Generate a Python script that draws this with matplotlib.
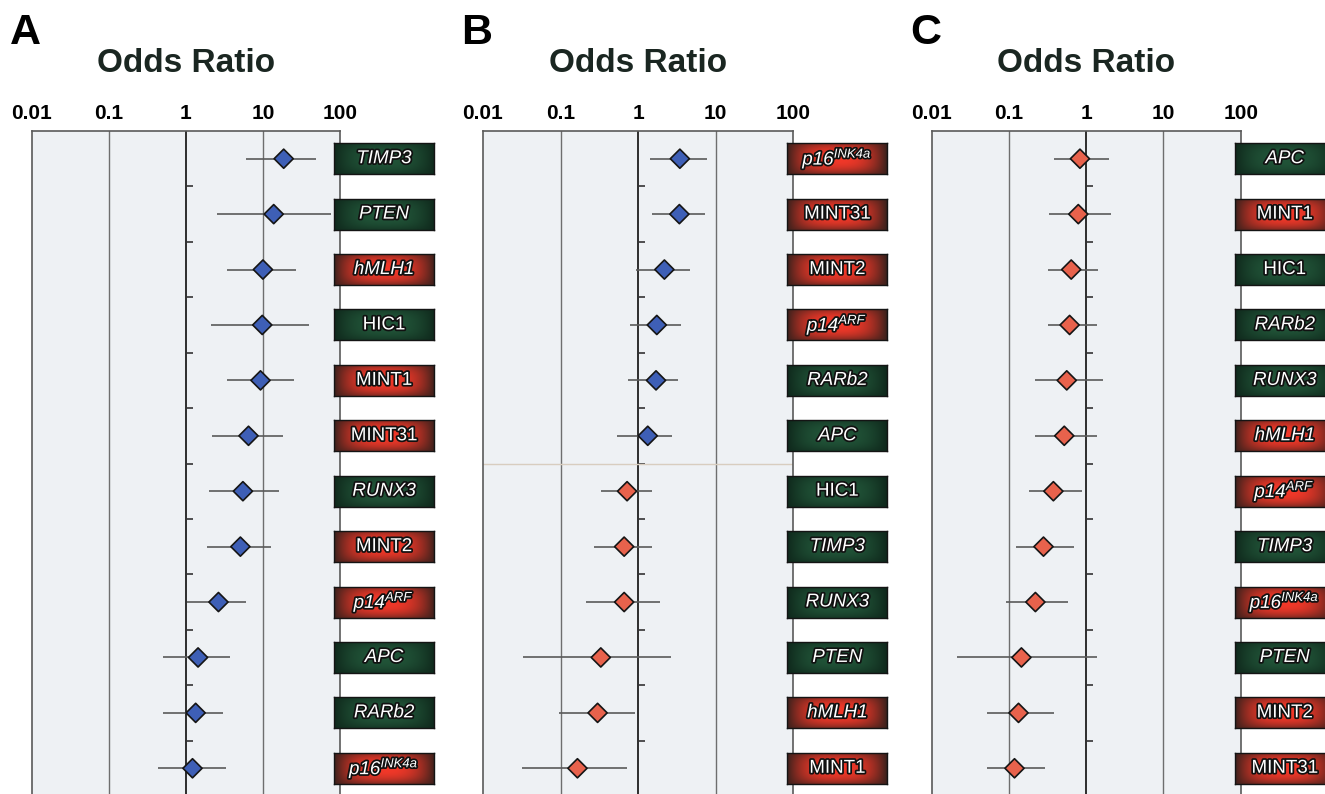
import matplotlib
matplotlib.use("Agg")
import matplotlib.pyplot as plt
import matplotlib.patheffects as pe
import matplotlib.transforms as mtransforms
from matplotlib.ticker import NullLocator
import numpy as np

plt.rcParams['font.family'] = ['Liberation Sans', 'DejaVu Sans']
plt.rcParams['mathtext.fontset'] = 'custom'
plt.rcParams['mathtext.it'] = 'Liberation Sans:italic'
plt.rcParams['mathtext.rm'] = 'Liberation Sans:italic'

# panel A
genes_a = ["TIMP3", "PTEN", "hMLH1", "HIC1", "MINT1", "MINT31",
           "RUNX3", "MINT2", "p14ARF", "APC", "RARb2", "p16INK4a"]
or_a = [18.6, 13.8, 10.0, 9.8, 9.3, 6.5, 5.5, 5.1, 2.65, 1.44, 1.34, 1.22]
lo_a = [6.0, 2.5, 3.4, 2.1, 3.4, 2.2, 2.0, 1.9, 1.02, 0.51, 0.51, 0.43]
hi_a = [49, 76, 27, 40, 25, 18, 16.2, 12.6, 6.1, 3.7, 3.0, 3.3]

# panel B
genes_b = ["p16INK4a", "MINT31", "MINT2", "p14ARF", "RARb2", "APC",
           "HIC1", "TIMP3", "RUNX3", "PTEN", "hMLH1", "MINT1"]
or_b = [3.45, 3.4, 2.18, 1.74, 1.70, 1.33, 0.72, 0.66, 0.66, 0.33, 0.30, 0.165]
lo_b = [1.44, 1.51, 0.93, 0.79, 0.75, 0.53, 0.33, 0.27, 0.21, 0.033, 0.095, 0.032]
hi_b = [7.8, 7.2, 4.6, 3.6, 3.3, 2.75, 1.51, 1.51, 1.9, 2.65, 0.92, 0.72]

# panel C
genes_c = ["APC", "MINT1", "HIC1", "RARb2", "RUNX3", "hMLH1",
           "p14ARF", "TIMP3", "p16INK4a", "PTEN", "MINT2", "MINT31"]
or_c = [0.83, 0.79, 0.64, 0.61, 0.56, 0.52, 0.376, 0.28, 0.22, 0.145, 0.133, 0.118]
lo_c = [0.38, 0.33, 0.32, 0.32, 0.22, 0.22, 0.184, 0.123, 0.092, 0.021, 0.052, 0.052]
hi_c = [2.0, 2.1, 1.44, 1.37, 1.64, 1.39, 0.89, 0.70, 0.59, 1.39, 0.38, 0.29]

red_genes = ["hMLH1", "MINT1", "MINT31", "MINT2", "p14ARF", "p16INK4a"]
upright_genes = ["HIC1", "MINT1", "MINT2", "MINT31"]
label_text = {
    "p14ARF": r"$p14^{ARF}$",
    "p16INK4a": r"$p16^{INK4a}$",
}

panels = [("A", genes_a, or_a, lo_a, hi_a),
          ("B", genes_b, or_b, lo_b, hi_b),
          ("C", genes_c, or_c, lo_c, hi_c)]

W, H = 1325, 794
lefts = [31.7, 483, 931.7]
rights = [340, 793.3, 1240.7]
top_px, bot_px = 131, 796


def box_image(edge, center):
    x = np.linspace(-1, 1, 100)
    y = np.linspace(-1, 1, 32)
    wx = 1 - np.abs(x) ** 2.5
    wy = 1 - 0.6 * np.abs(y) ** 2.5
    w = np.outer(wy, wx)[..., None]
    edge = np.array(edge)
    center = np.array(center)
    return np.clip(edge + (center - edge) * w, 0, 1)


red_img = box_image((0.24, 0.13, 0.11), (0.95, 0.22, 0.16))
green_img = box_image((0.06, 0.16, 0.11), (0.13, 0.33, 0.22))

fig = plt.figure(figsize=(W / 100, H / 100), dpi=100)
fig.patch.set_facecolor('white')

for (letter, genes, ors, los, his), l, r in zip(panels, lefts, rights):
    wpx = r - l
    ax = fig.add_axes([l / W, (H - bot_px) / H, wpx / W, (bot_px - top_px) / H])
    ax.set_facecolor('#eef1f4')
    ax.set_xscale('log')
    n = len(genes)
    # first gene on top
    y = n - 1 - np.arange(n)

    for v in [0.1, 10]:
        ax.axvline(v, color='#6e6e6e', lw=1.0, zorder=1)
    ax.axvline(1, color='#1e1e1e', lw=1.3, zorder=1)
    ax.hlines(y[:-1] - 0.5, 1, 10 ** 0.09, color='#333333', lw=1.2, zorder=1)

    # divider where odds ratio crosses 1
    for i in range(n - 1):
        if (ors[i] > 1) != (ors[i + 1] > 1):
            ax.axhline(y[i] - 0.5, color='#d8cdbf', lw=1.0, zorder=1)

    ax.hlines(y, los, his, color='#5a5a5a', lw=1.2, zorder=2)
    cols = ['#3e5fb6' if v > 1 else '#e8624c' for v in ors]
    ax.scatter(ors, y, marker='D', s=95, c=cols, edgecolors='#151515',
               linewidths=1.2, zorder=3)

    ax.set_xlim(0.01, 100)
    ax.set_ylim(-0.5, n - 0.5)
    ax.xaxis.tick_top()
    ax.set_xticks([0.01, 0.1, 1, 10, 100])
    ax.set_xticklabels(['0.01', '0.1', '1', '10', '100'], fontweight='bold')
    ax.xaxis.set_minor_locator(NullLocator())
    ax.tick_params(axis='x', length=0, pad=6, labelsize=15)
    ax.set_yticks([])
    for s in ['left', 'right', 'top']:
        ax.spines[s].set_color('#5a5a5a')
        ax.spines[s].set_linewidth(1.2)
    ax.spines['bottom'].set_visible(False)

    ax.text(0.5, 1.0887, 'Odds Ratio', transform=ax.transAxes, ha='center',
            va='baseline', fontsize=24, fontweight='bold', color='#1a2621')
    ax.text(-0.07, 1.131, letter, transform=ax.transAxes, ha='left',
            va='baseline', fontsize=31, fontweight='bold', color='black')

    # gene label boxes
    trans = mtransforms.blended_transform_factory(ax.transAxes, ax.transData)
    x0 = 1 - 6 / wpx
    bw = 100 / wpx
    for g, yy in zip(genes, y):
        ins = ax.inset_axes([x0, yy - 0.28, bw, 0.56], transform=trans)
        ins.set_zorder(5)
        ins.imshow(red_img if g in red_genes else green_img, aspect='auto',
                   extent=[0, 1, 0, 1], interpolation='bilinear')
        ins.set_xticks([])
        ins.set_yticks([])
        for sp in ins.spines.values():
            sp.set_color('#141414')
            sp.set_linewidth(1.0)
        ins.text(0.5, 0.5, label_text.get(g, g), transform=ins.transAxes,
                 ha='center', va='center', fontsize=13.5, color='white',
                 fontstyle='normal' if g in upright_genes else 'italic',
                 path_effects=[pe.withStroke(linewidth=2.5, foreground='#111111')])

fig.savefig('out.png', dpi=100, facecolor=fig.get_facecolor())
